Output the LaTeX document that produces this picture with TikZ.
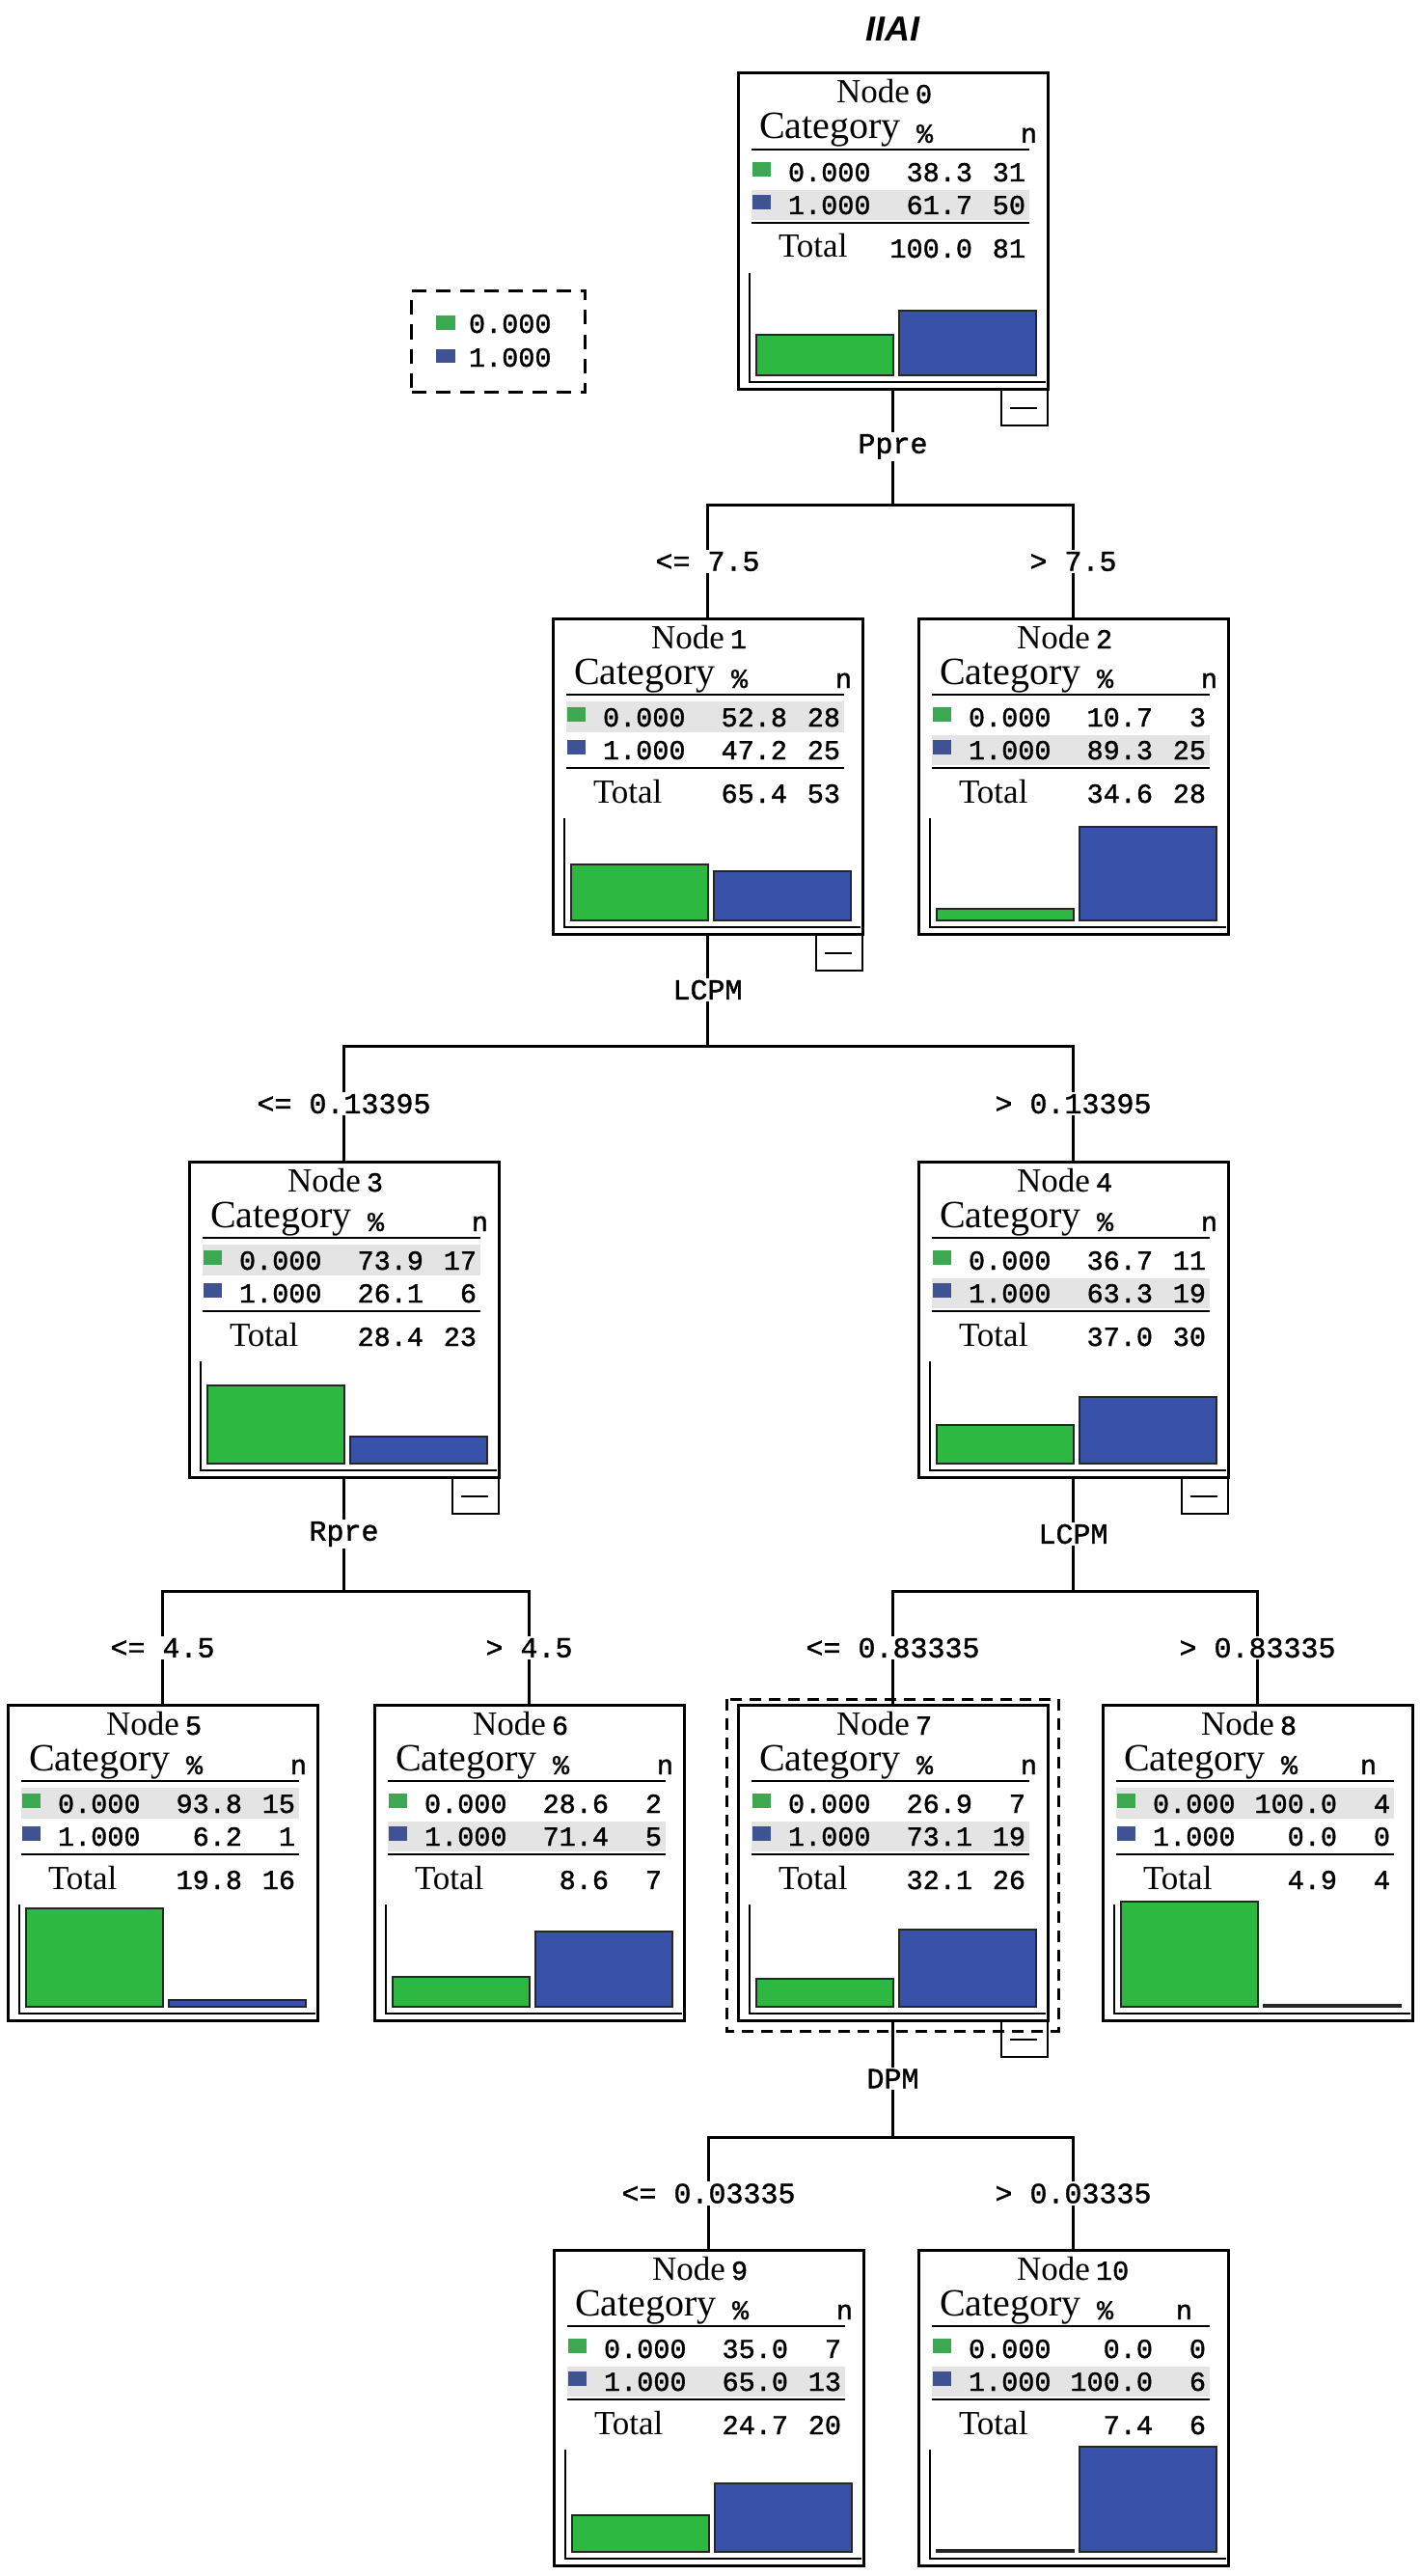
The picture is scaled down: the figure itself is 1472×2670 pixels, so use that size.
\documentclass[tikz,border=0pt]{standalone}
\usepackage{fontspec}
\setmainfont{Liberation Serif}
\newfontfamily\monofnt{Liberation Mono}[FakeBold=1.3]
\newfontfamily\titlefnt{Liberation Sans}
\newcommand\fNode{\rmfamily\fontsize{35}{38}\selectfont}
\newcommand\fCat{\rmfamily\fontsize{40}{43}\selectfont}
\newcommand\fNum{\monofnt\fontsize{28.5}{30}\selectfont}
\newcommand\fLbl{\monofnt\fontsize{30}{32}\selectfont}
\definecolor{bargreen}{RGB}{45,184,66}
\definecolor{barblue}{RGB}{56,82,170}
\definecolor{sqgreen}{RGB}{60,168,82}
\definecolor{sqblue}{RGB}{62,82,148}
\definecolor{hlgray}{RGB}{228,228,228}
\tikzset{
  box/.style={draw=black, line width=3pt, fill=white, minimum width=321pt, minimum height=327pt, inner sep=0pt, outer sep=0pt, anchor=north west},
  txt/.style={inner sep=0pt, outer sep=0pt},
  rulez/.style={line width=2.5pt},
  barz/.style={draw=black!85, line width=2pt},
  conn/.style={line width=3pt},
  lbl/.style={fill=white, inner sep=2pt, font=\fLbl},
}
\newcommand\settot[3]{\def\totp{#1}\def\totn{#2}\def\nhx{#3}}
% #1 name, #2 x, #3 y, #4 number, #5 p0, #6 n0, #7 p1, #8 n1, #9 minus box
\newcommand\treenode[9]{%
  \node[box] (#1) at (#2,#3) {};
  \begin{scope}[shift={(#2,#3)}]
    \ifdim #5pt>#7pt
      \fill[hlgray] (14,86) rectangle (302,118);
    \else
      \fill[hlgray] (14,121) rectangle (302,152);
    \fi
    \node[txt, anchor=base east, font=\fNode] (#1-nd) at (178,31) {Node};
    \node[txt, anchor=base west, font=\fNum] (#1-no) at (184,31) {#4};
    \node[txt, anchor=base west, font=\fCat] (#1-cat) at (22,68) {Category};
    \node[txt, anchor=base west, font=\fNum] (#1-pc) at (185,72) {\%};
    \node[txt, anchor=base east, font=\fNum] (#1-nh) at (\nhx,72) {n};
    \draw[rulez] (14,79) -- (302,79);
    \fill[sqgreen] (15,92) rectangle (34,107);
    \fill[sqblue] (15,126) rectangle (34,141);
    \node[txt, anchor=base west, font=\fNum] (#1-c0) at (52,112) {0.000};
    \node[txt, anchor=base east, font=\fNum] (#1-p0) at (243,112) {#5};
    \node[txt, anchor=base east, font=\fNum] (#1-n0) at (298,112) {#6};
    \node[txt, anchor=base west, font=\fNum] (#1-c1) at (52,146) {1.000};
    \node[txt, anchor=base east, font=\fNum] (#1-p1) at (243,146) {#7};
    \node[txt, anchor=base east, font=\fNum] (#1-n1) at (298,146) {#8};
    \draw[rulez] (14,155) -- (302,155);
    \node[txt, anchor=base west, font=\fNode] (#1-tt) at (42,191) {Total};
    \node[txt, anchor=base east, font=\fNum] (#1-tp) at (243,191) {\totp};
    \node[txt, anchor=base east, font=\fNum] (#1-tn) at (298,191) {\totn};
    \draw[rulez] (12,207) -- (12,320) -- (319,320);
    \pgfmathsetmacro\hg{max(#5*1.09,2)}
    \pgfmathsetmacro\hb{max(#7*1.09,2)}
    \draw[barz, fill=bargreen] (19,313) rectangle (161,{313-\hg});
    \draw[barz, fill=barblue] (167,313) rectangle (309,{313-\hb});
    \ifnum#9=1
      \draw[line width=2.5pt] (273,327) -- (273,365) -- (321,365) -- (321,327);
      \draw[line width=2.5pt] (282,347) -- (310,347);
    \fi
  \end{scope}
}
\begin{document}
\begin{tikzpicture}[x=1pt,y=-1pt]
\fill[white] (0,0) rectangle (1472,2670);
\useasboundingbox (0,0) rectangle (1472,2670);

\node[font=\titlefnt\bfseries\itshape\fontsize{36}{40}\selectfont] (title) at (925,30) {IIAI};

% legend
\node[draw, line width=3pt, dash pattern=on 15pt off 10pt, minimum width=180pt, minimum height=105pt, inner sep=0pt, anchor=north west] (legend) at (425,300) {};
\fill[sqgreen] (452,327) rectangle (472,342);
\fill[sqblue] (452,362) rectangle (472,376);
\node[txt, anchor=base west, font=\fNum] (lg0) at (486,345) {0.000};
\node[txt, anchor=base west, font=\fNum] (lg1) at (486,380) {1.000};

% tree nodes
\settot{100.0}{81}{310}\treenode{n0}{765}{76}{0}{38.3}{31}{61.7}{50}{1}
\settot{65.4}{53}{310}\treenode{n1}{573}{641}{1}{52.8}{28}{47.2}{25}{1}
\settot{34.6}{28}{310}\treenode{n2}{952}{641}{2}{10.7}{3}{89.3}{25}{0}
\settot{28.4}{23}{310}\treenode{n3}{196}{1204}{3}{73.9}{17}{26.1}{6}{1}
\settot{37.0}{30}{310}\treenode{n4}{952}{1204}{4}{36.7}{11}{63.3}{19}{1}
\settot{19.8}{16}{310}\treenode{n5}{8}{1767}{5}{93.8}{15}{6.2}{1}{0}
\settot{8.6}{7}{310}\treenode{n6}{388}{1767}{6}{28.6}{2}{71.4}{5}{0}
\settot{32.1}{26}{310}\treenode{n7}{765}{1767}{7}{26.9}{7}{73.1}{19}{1}
\settot{4.9}{4}{284}\treenode{n8}{1143}{1767}{8}{100.0}{4}{0.0}{0}{0}
\settot{24.7}{20}{310}\treenode{n9}{574}{2332}{9}{35.0}{7}{65.0}{13}{0}
\settot{7.4}{6}{284}\treenode{n10}{952}{2332}{10}{0.0}{0}{100.0}{6}{0}

% selection frame around node 7
\draw[line width=3pt, dash pattern=on 12pt off 8pt] (753,1761) rectangle (1097,2105);

% connectors
\coordinate (j0) at (925.5,523);
\coordinate (j1) at (733.5,1084);
\coordinate (j3) at (356.5,1649);
\coordinate (j4) at (1112.5,1649);
\coordinate (j7) at (925.5,2215);

\draw[conn] (n0.south) -- node[lbl] (v0) {Ppre} (j0);
\draw[conn] (j0) -| node[lbl, pos=0.75] (e1) {<= 7.5} (n1.north);
\draw[conn] (j0) -| node[lbl, pos=0.75] (e2) {> 7.5} (n2.north);

\draw[conn] (n1.south) -- node[lbl] (v1) {LCPM} (j1);
\draw[conn] (j1) -| node[lbl, pos=0.75] (e3) {<= 0.13395} (n3.north);
\draw[conn] (j1) -| node[lbl, pos=0.75] (e4) {> 0.13395} (n4.north);

\draw[conn] (n3.south) -- node[lbl] (v3) {Rpre} (j3);
\draw[conn] (j3) -| node[lbl, pos=0.75] (e5) {<= 4.5} (n5.north);
\draw[conn] (j3) -| node[lbl, pos=0.75] (e6) {> 4.5} (n6.north);

\draw[conn] (n4.south) -- node[lbl] (v4) {LCPM} (j4);
\draw[conn] (j4) -| node[lbl, pos=0.75] (e7) {<= 0.83335} (n7.north);
\draw[conn] (j4) -| node[lbl, pos=0.75] (e8) {> 0.83335} (n8.north);

\draw[conn] (n7.south) -- node[lbl] (v7) {DPM} (j7);
\draw[conn] (j7) -| node[lbl, pos=0.75] (e9) {<= 0.03335} (n9.north);
\draw[conn] (j7) -| node[lbl, pos=0.75] (e10) {> 0.03335} (n10.north);
\end{tikzpicture}
\end{document}
